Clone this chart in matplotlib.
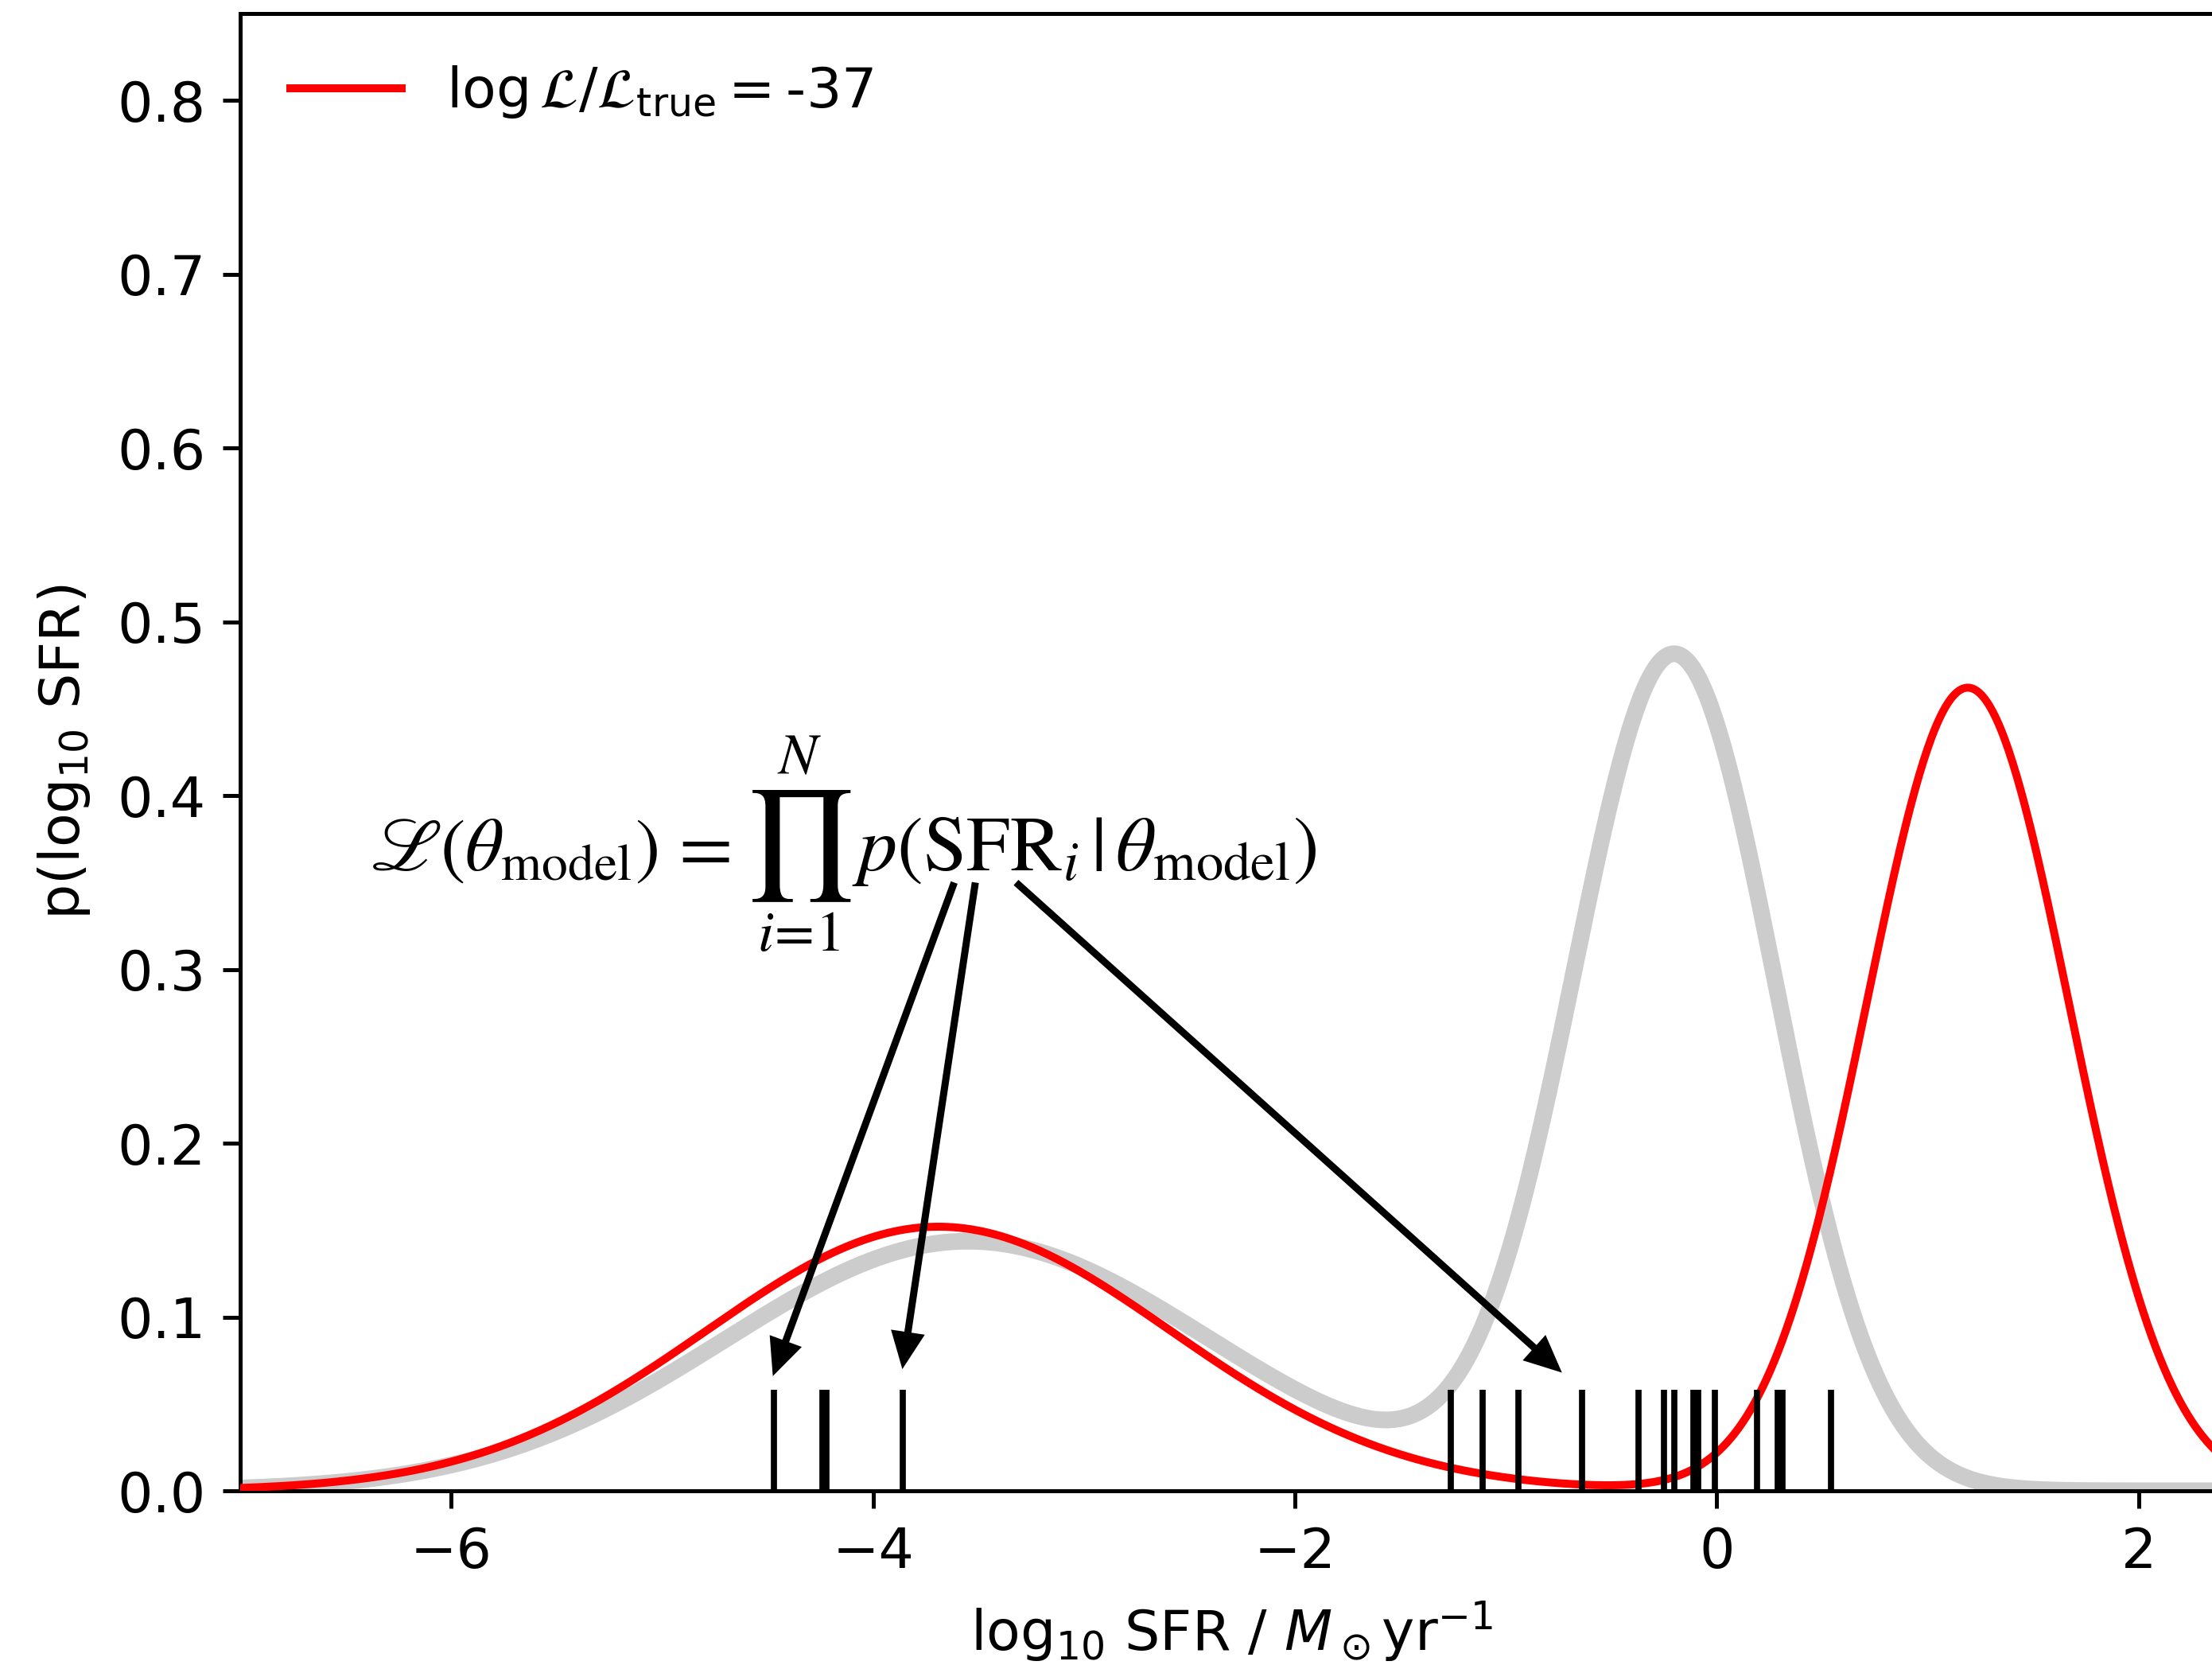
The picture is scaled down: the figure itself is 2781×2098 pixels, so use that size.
import numpy as np
import matplotlib
matplotlib.use("Agg")
import matplotlib.pyplot as plt

# ---- data ----
# Gaussian-mixture model components (weight, mean, sigma) of log10 SFR
true_weights = [0.414, 0.577]
true_means = [-3.55, -0.20]
true_sigmas = [1.15, 0.48]

model_weights = [0.419, 0.556]
model_means = [-3.69, 1.19]
model_sigmas = [1.10, 0.48]

# observed galaxies (rug)
obs_log_sfr = [-4.47, -4.24, -4.22, -3.86, -1.26, -1.11, -0.94, -0.64,
               -0.37, -0.25, -0.20, -0.11, -0.09, -0.01, 0.19, 0.29, 0.31, 0.54]
rug_height = 0.058

loglike_label = r'$\log\mathcal{L}/\mathcal{L}_\mathrm{true}=$-37'
formula_left = r'$\mathscr{L}(\theta_\mathrm{model})$'
formula_eq = r'$=$'
formula_prod = r'$\prod$'
formula_upper = r'$N$'
formula_lower = r'$i\!=\!1$'
formula_right = r'$p(\mathrm{SFR}_i\,|\,\theta_\mathrm{model})$'

# arrows: (start x, start y) -> (end x, end y) in data units
arrow_starts = [(-3.615, 0.350), (-3.515, 0.350), (-3.322, 0.350)]
arrow_ends = [(-4.475, 0.066), (-3.861, 0.070), (-0.734, 0.068)]

xticks = [-6, -4, -2, 0, 2]
yticks = [0.0, 0.1, 0.2, 0.3, 0.4, 0.5, 0.6, 0.7, 0.8]


def mixture_pdf(x, weights, means, sigmas):
    out = np.zeros_like(x)
    for w, m, s in zip(weights, means, sigmas):
        out += w * np.exp(-0.5 * ((x - m) / s) ** 2) / (np.sqrt(2 * np.pi) * s)
    return out


DPI = 450
FS = 11.2
plt.rcParams['font.size'] = FS
fig = plt.figure(figsize=(2781 / DPI, 2098 / DPI), dpi=DPI)
XMIN, XMAX = -7, 2.4
PX_PER_UNIT = 265.2
ax = fig.add_axes([302 / 2781, 224 / 2098,
                   (XMAX - XMIN) * PX_PER_UNIT / 2781, 1857 / 2098])

xg = np.linspace(XMIN, XMAX, 1000)
ax.plot(xg, mixture_pdf(xg, true_weights, true_means, true_sigmas),
        color='#cccccc', lw=21 * 72 / DPI, zorder=2)
ax.plot(xg, mixture_pdf(xg, model_weights, model_means, model_sigmas),
        color='red', lw=10 * 72 / DPI, label=loglike_label, zorder=3)

ax.vlines(obs_log_sfr, 0, rug_height, color='black', lw=7.7 * 72 / DPI, zorder=4)

for (x0, y0), (x1, y1) in zip(arrow_starts, arrow_ends):
    ax.annotate('', xy=(x1, y1), xytext=(x0, y0),
                arrowprops=dict(facecolor='black', edgecolor='black', lw=0,
                                width=9 * 72 / DPI, headwidth=43 * 72 / DPI,
                                headlength=47 * 72 / DPI, shrink=0.0),
                zorder=5)

FF = 15.7
ax.text(-6.386, 0.3568, formula_left, ha='left', va='baseline', fontsize=15.0,
        math_fontfamily='stix')
ax.text(-4.828, 0.3568, formula_eq, ha='center', va='baseline', fontsize=FF,
        math_fontfamily='stix')
ax.text(-4.353, 0.3707, formula_prod, ha='center', va='center', fontsize=22,
        math_fontfamily='stix')
ax.text(-4.347, 0.4218, formula_upper, ha='center', va='center', fontsize=11.6,
        math_fontfamily='stix')
ax.text(-4.353, 0.3195, formula_lower, ha='center', va='center', fontsize=11.6,
        math_fontfamily='stix')
ax.text(-4.099, 0.3568, formula_right, ha='left', va='baseline', fontsize=FF,
        math_fontfamily='stix')

ax.set_xlim(XMIN, XMAX)
ax.set_ylim(0, 0.85)
ax.set_xticks(xticks)
ax.set_yticks(yticks)
ax.set_xlabel(r'log$_{10}$ SFR / $M_\odot$yr$^{-1}$')
ax.set_ylabel(r'p(log$_{10}$ SFR)', labelpad=5)
ax.legend(loc='upper left', frameon=False)

fig.savefig('out.png', dpi=DPI)
